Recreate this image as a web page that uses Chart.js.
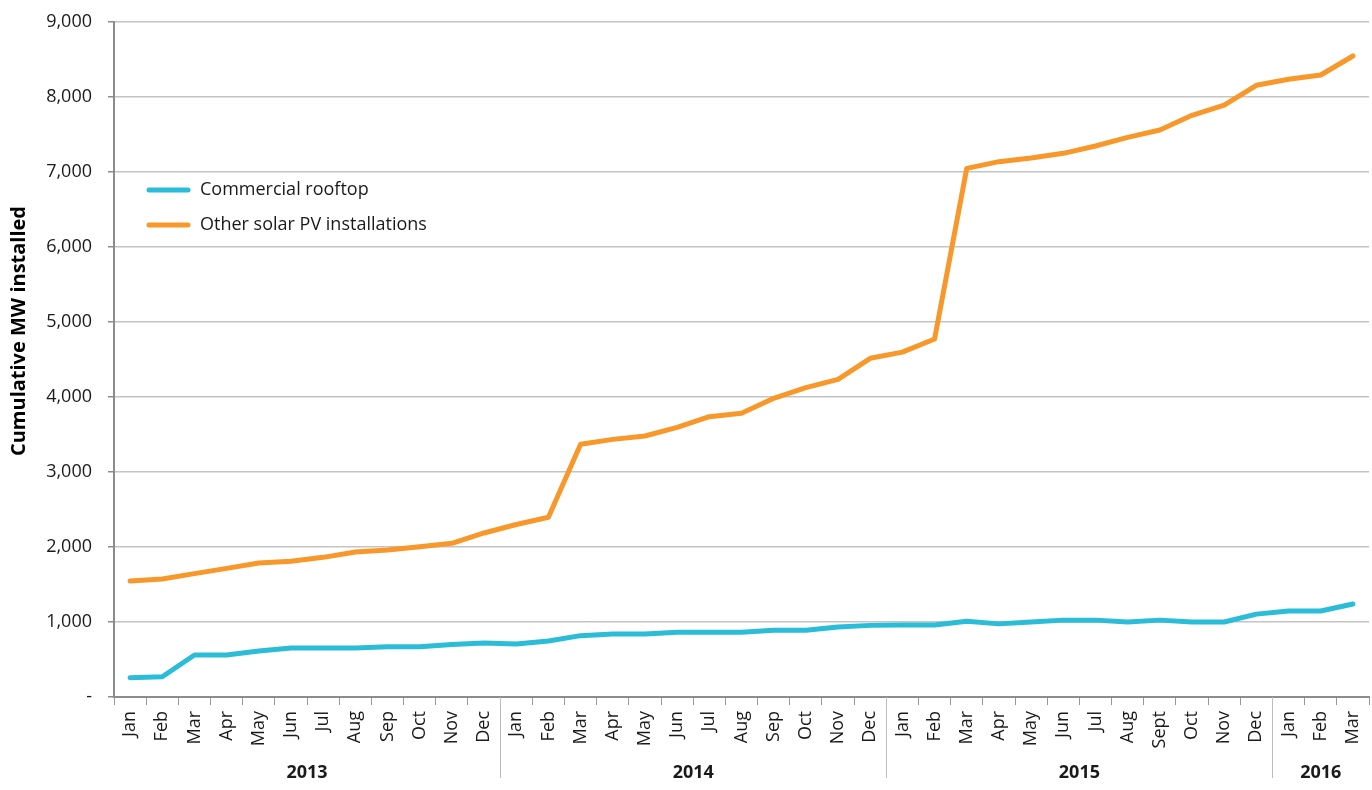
<!DOCTYPE html>
<html>
<head>
<meta charset="utf-8">
<script src="https://cdn.jsdelivr.net/npm/chart.js@4/dist/chart.umd.min.js"></script>
<style>
  html, body { margin: 0; padding: 0; background: #fff; }
  #wrap { width: 1372px; height: 790px; position: relative; }
</style>
</head>
<body>
<div id="wrap"><canvas id="solarChart"></canvas></div>
<script>
// data (cumulative MW installed)
const years = ["2013", "2014", "2015", "2016"];
const months2013 = ["Jan", "Feb", "Mar", "Apr", "May", "Jun", "Jul", "Aug", "Sep", "Oct", "Nov", "Dec"];
const months2014 = ["Jan", "Feb", "Mar", "Apr", "May", "Jun", "Jul", "Aug", "Sep", "Oct", "Nov", "Dec"];
const months2015 = ["Jan", "Feb", "Mar", "Apr", "May", "Jun", "Jul", "Aug", "Sept", "Oct", "Nov", "Dec"];
const months2016 = ["Jan", "Feb", "Mar"];
const yTicks = [0, 1000, 2000, 3000, 4000, 5000, 6000, 7000, 8000, 9000];

const commercialRooftop = [
  257, 270, 560, 560, 613, 653, 653, 653, 670, 670, 700, 720,
  707, 747, 818, 840, 840, 862, 862, 862, 889, 889, 933, 955,
  960, 960, 1010, 975, 1000, 1025, 1025, 1000, 1025, 1000, 1000, 1105,
  1147, 1147, 1240,
];
const otherSolarPV = [
  1547, 1573, 1645, 1715, 1787, 1810, 1862, 1933, 1960, 2004, 2049, 2187,
  2300, 2396, 3369, 3435, 3480, 3596, 3738, 3782, 3982, 4124, 4236, 4516,
  4598, 4773, 7049, 7138, 7187, 7249, 7347, 7462, 7560, 7756, 7893, 8156,
  8236, 8293, 8547,
];

const monthGroups = [months2013, months2014, months2015, months2016];
const labels = monthGroups.flat();

const FONT = "'Open Sans', 'Noto Sans', sans-serif";
const TEXT = "#1a1a1a";
const CYAN = "#2bbcd8";
const ORANGE = "#f8982a";

// year labels, separators, legend and y title
const decorations = {
  id: "decorations",
  afterDraw(chart) {
    const { ctx, scales: { x, y } } = chart;
    const axisY = y.bottom;
    const step = x.width / labels.length;
    ctx.save();

    // year separators + year labels
    let start = 0;
    monthGroups.forEach((group, i) => {
      const end = start + group.length - 1;
      const left = x.getPixelForValue(start) - step / 2;
      const right = x.getPixelForValue(end) + step / 2;
      if (i > 0) {
        ctx.strokeStyle = "#bdbdbd";
        ctx.lineWidth = 1;
        ctx.beginPath();
        ctx.moveTo(Math.round(left) + 0.5, axisY);
        ctx.lineTo(Math.round(left) + 0.5, 778);
        ctx.stroke();
      }
      ctx.fillStyle = TEXT;
      ctx.font = "bold 18px " + FONT;
      ctx.textAlign = "center";
      ctx.textBaseline = "middle";
      ctx.fillText(years[i], (left + right) / 2, 773);
      start = end + 1;
    });

    // legend
    const items = [
      { text: "Commercial rooftop", color: CYAN, y: 190 },
      { text: "Other solar PV installations", color: ORANGE, y: 225 },
    ];
    items.forEach((item) => {
      ctx.strokeStyle = item.color;
      ctx.lineWidth = 5;
      ctx.lineCap = "round";
      ctx.beginPath();
      ctx.moveTo(149, item.y);
      ctx.lineTo(188, item.y);
      ctx.stroke();
      ctx.fillStyle = TEXT;
      ctx.font = "18px " + FONT;
      ctx.textAlign = "left";
      ctx.textBaseline = "middle";
      ctx.fillText(item.text, 200, item.y);
    });

    // y axis title
    ctx.translate(19, 331);
    ctx.rotate(-Math.PI / 2);
    ctx.fillStyle = "#000";
    ctx.font = "bold 20px " + FONT;
    ctx.textAlign = "center";
    ctx.textBaseline = "middle";
    ctx.fillText("Cumulative MW installed", 0, 0);
    ctx.restore();
  },
};

new Chart(document.getElementById("solarChart"), {
  type: "line",
  data: {
    labels: labels,
    datasets: [
      {
        label: "Commercial rooftop",
        data: commercialRooftop,
        borderColor: CYAN,
        backgroundColor: CYAN,
        borderWidth: 5,
        pointRadius: 0,
        tension: 0,
        borderCapStyle: "round",
        borderJoinStyle: "round",
        fill: false,
      },
      {
        label: "Other solar PV installations",
        data: otherSolarPV,
        borderColor: ORANGE,
        backgroundColor: ORANGE,
        borderWidth: 5,
        pointRadius: 0,
        tension: 0,
        borderCapStyle: "round",
        borderJoinStyle: "round",
        fill: false,
      },
    ],
  },
  options: {
    responsive: true,
    maintainAspectRatio: false,
    animation: false,
    layout: { padding: { top: 22, right: 3, bottom: 0, left: 0 } },
    plugins: {
      legend: { display: false },
      tooltip: { enabled: false },
    },
    scales: {
      x: {
        type: "category",
        offset: true,
        afterFit: (scale) => {
          scale.height = 93;
          scale.paddingLeft = 0;
          scale.paddingRight = 0;
        },
        grid: {
          offset: true,
          drawOnChartArea: false,
          drawTicks: true,
          tickLength: 8,
          color: "#9a9a9a",
          tickColor: "#9a9a9a",
        },
        border: { display: true, color: "#8c8c8c", width: 2 },
        ticks: {
          minRotation: 90,
          maxRotation: 90,
          autoSkip: false,
          padding: 6,
          color: TEXT,
          font: { family: FONT, size: 18 },
        },
      },
      y: {
        min: 0,
        max: 9000,
        afterFit: (scale) => {
          scale.width = 114;
          scale.paddingTop = 0;
          scale.paddingBottom = 0;
        },
        afterBuildTicks: (scale) => {
          scale.ticks = yTicks.map((v) => ({ value: v }));
        },
        grid: {
          color: "#c4c4c4",
          lineWidth: 1.5,
          drawTicks: true,
          tickLength: 6,
          tickColor: "#8c8c8c",
        },
        border: { display: true, color: "#8c8c8c", width: 2 },
        ticks: {
          padding: 16,
          color: TEXT,
          font: { family: FONT, size: 18 },
          callback: (v) => (v === 0 ? "-" : v.toLocaleString("en-US")),
        },
      },
    },
  },
  plugins: [decorations],
});
</script>
</body>
</html>
